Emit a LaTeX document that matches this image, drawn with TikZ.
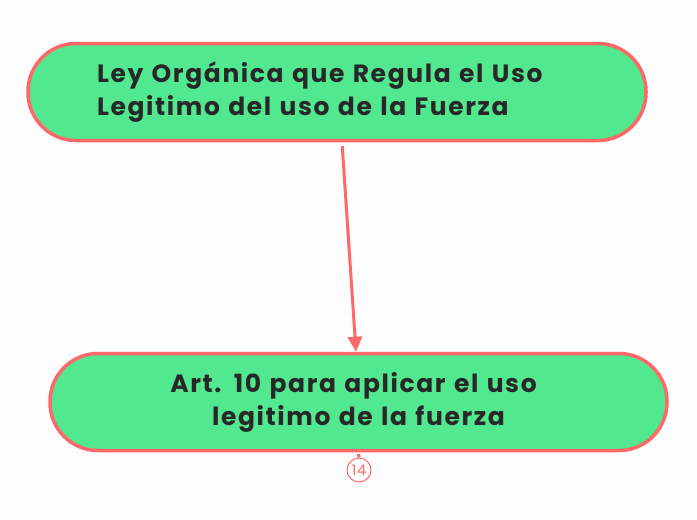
\documentclass[tikz,border=0pt]{standalone}
\usepackage{fontspec}
\setmainfont{Poppins}
\usetikzlibrary{arrows.meta,calc}
\definecolor{nodegreen}{RGB}{82,232,144}
\definecolor{coral}{RGB}{255,104,104}
\definecolor{ink}{RGB}{40,40,40}
\definecolor{bg}{RGB}{253,253,253}
\tikzset{
  topic/.style={draw=coral,fill=nodegreen,line width=3.5pt,rounded corners=48pt,
    minimum height=97pt,text=ink,font=\fontsize{25}{33}\selectfont\bfseries\addfontfeatures{LetterSpace=6.5},inner sep=0pt},
  conn/.style={draw=coral,line width=3pt,-{Triangle[length=15pt,width=14pt]}},
  badge/.style={circle,draw=coral,line width=1pt,text=coral,minimum size=24pt,inner sep=0pt,
    font=\fontsize{14.5}{14.5}\selectfont\addfontfeatures{LetterSpace=5}}
}
\begin{document}
\begin{tikzpicture}[x=1pt,y=1pt]
\fill[bg] (0,0) rectangle (697,-520);
\useasboundingbox (0,0) rectangle (697,-520);
\node[topic,minimum width=618pt,text width=480pt,align=left] (top) at (337,-92)
  {Ley Orgánica que Regula el Uso\\Legitimo del uso de la Fuerza};
\node[topic,minimum width=617pt,text width=520pt,align=center] (bot) at (358.5,-402)
  {Art. 10 para aplicar el uso\hspace{10pt}\mbox{}\\legitimo de la fuerza};
\node[badge] (num) at (359,-470) {14};
\draw[conn,shorten <=4pt] ([xshift=5pt]top.south) -- ([xshift=-2.5pt]bot.north);
\draw[draw=coral,line width=3pt] ([yshift=-1.75pt]bot.south) -- (num.north);
\end{tikzpicture}
\end{document}
